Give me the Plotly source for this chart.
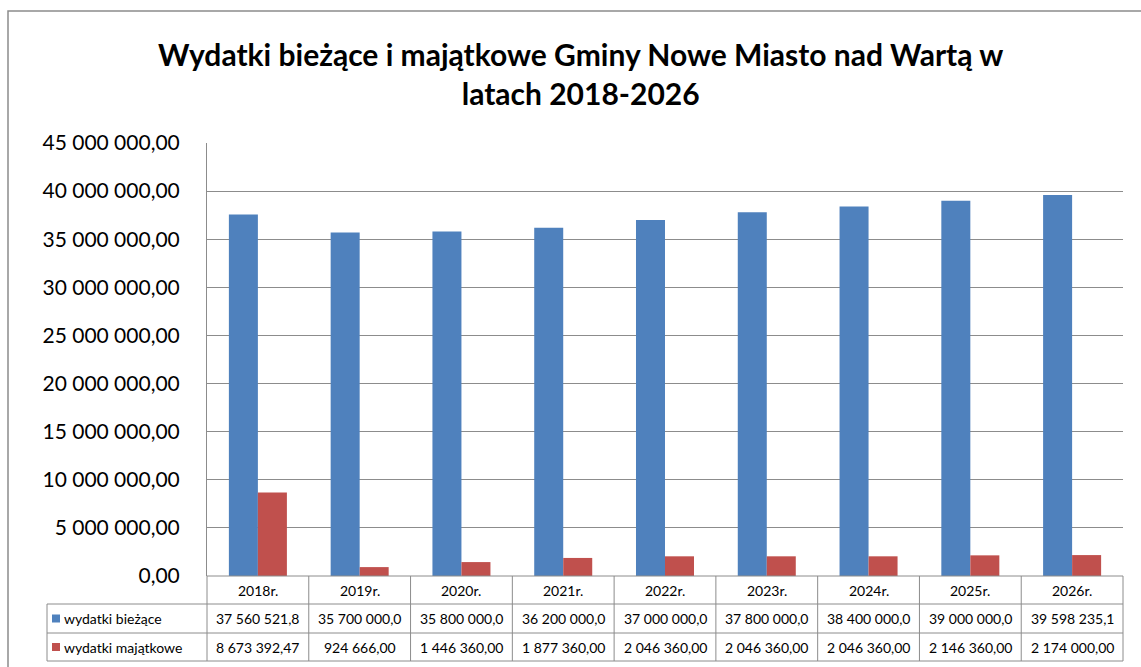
import plotly.graph_objects as go

categories = ["2018r.", "2019r.", "2020r.", "2021r.", "2022r.", "2023r.", "2024r.", "2025r.", "2026r."]
series_names = ["wydatki bieżące", "wydatki majątkowe"]
biezace = [37560521.8, 35700000.0, 35800000.0, 36200000.0, 37000000.0, 37800000.0, 38400000.0, 39000000.0, 39598235.1]
majatkowe = [8673392.47, 924666.00, 1446360.00, 1877360.00, 2046360.00, 2046360.00, 2046360.00, 2146360.00, 2174000.00]
series_values = [biezace, majatkowe]
series_decimals = [1, 2]
colors = ["#4F81BD", "#C0504D"]
y_ticks = [0, 5e6, 10e6, 15e6, 20e6, 25e6, 30e6, 35e6, 40e6, 45e6]

W, H = 1141, 667
L, R, T, B = 207, 1123, 143, 576
FONT = "Lato"
GRID = "#8c8c8c"


def px2x(px):
    return (px - L) / (R - L)


def py2y(py):
    return (B - py) / (B - T)


def fmt(v, d):
    s = f"{v:,.{d}f}"
    return s.replace(",", "\u00a0").replace(".", ",")


fig = go.Figure()
for name, vals, col in zip(series_names, series_values, colors):
    fig.add_trace(go.Bar(x=categories, y=vals, name=name, marker=dict(color=col, line=dict(width=0))))

fig.update_layout(
    width=W, height=H,
    margin=dict(l=L, r=W - R, t=T, b=H - B),
    paper_bgcolor="white", plot_bgcolor="white",
    separators=", ",
    barmode="group", bargap=0.43, bargroupgap=0,
    showlegend=False,
    font=dict(family=FONT, color="#000000"),
)
fig.update_yaxes(
    range=[0, 45e6], tickvals=y_ticks, tickformat=",.2f",
    showgrid=True, gridcolor=GRID, gridwidth=1,
    showline=True, linecolor=GRID, linewidth=1,
    zeroline=False, ticks="", ticklabelstandoff=22,
    tickfont=dict(family=FONT, size=21, color="#000000"),
)
fig.update_xaxes(showticklabels=False, showline=False, showgrid=False, zeroline=False, ticks="")

shapes = []
annotations = []
line = dict(color=GRID, width=1)

# outer chart border
shapes.append(dict(type="rect", xref="paper", yref="paper", x0=px2x(8), x1=px2x(1200),
                   y0=py2y(11), y1=py2y(720), line=dict(color="#8c8c8c", width=1.5), layer="below"))

# data table
rows = [576, 604, 633, 661]
n = len(categories)
shapes.append(dict(type="line", xref="paper", yref="paper", x0=0, x1=1, y0=py2y(rows[0]), y1=py2y(rows[0]), line=line))
for r in rows[1:]:
    shapes.append(dict(type="line", xref="paper", yref="paper", x0=px2x(47), x1=1, y0=py2y(r), y1=py2y(r), line=line))
for i in range(n + 1):
    shapes.append(dict(type="line", xref="paper", yref="paper", x0=i / n, x1=i / n,
                       y0=py2y(rows[0]), y1=py2y(rows[3]), line=line))
shapes.append(dict(type="line", xref="paper", yref="paper", x0=px2x(47), x1=px2x(47),
                   y0=py2y(rows[1]), y1=py2y(rows[3]), line=line))

for i, c in enumerate(categories):
    annotations.append(dict(x=(i + 0.5) / n, y=py2y((rows[0] + rows[1]) / 2), xref="paper", yref="paper",
                            text=c, showarrow=False, xanchor="center", yanchor="middle",
                            font=dict(family=FONT, size=14, color="#000000")))

for k, (name, vals, d, col) in enumerate(zip(series_names, series_values, series_decimals, colors)):
    yc = (rows[k + 1] + rows[k + 2]) / 2
    shapes.append(dict(type="rect", xref="paper", yref="paper", x0=px2x(52), x1=px2x(60),
                       y0=py2y(yc + 4), y1=py2y(yc - 4), fillcolor=col, line=dict(width=0)))
    annotations.append(dict(x=px2x(62), y=py2y(yc), xref="paper", yref="paper", text=name,
                            showarrow=False, xanchor="left", yanchor="middle",
                            font=dict(family=FONT, size=14, color="#000000")))
    for i, v in enumerate(vals):
        annotations.append(dict(x=(i + 0.5) / n, y=py2y(yc), xref="paper", yref="paper", text=fmt(v, d),
                                showarrow=False, xanchor="center", yanchor="middle",
                                font=dict(family=FONT, size=14, color="#000000")))

annotations.append(dict(x=px2x(580), y=py2y(73), xref="paper", yref="paper",
                        text="<b>Wydatki bieżące i majątkowe Gminy Nowe Miasto nad Wartą w<br>latach 2018-2026</b>",
                        showarrow=False, xanchor="center", yanchor="middle",
                        font=dict(family=FONT, size=30, color="#000000")))

fig.update_layout(shapes=shapes, annotations=annotations)
fig.write_html("out.html", config={"displayModeBar": False},
               post_script="document.body.style.margin='0';document.body.style.overflow='hidden';")
